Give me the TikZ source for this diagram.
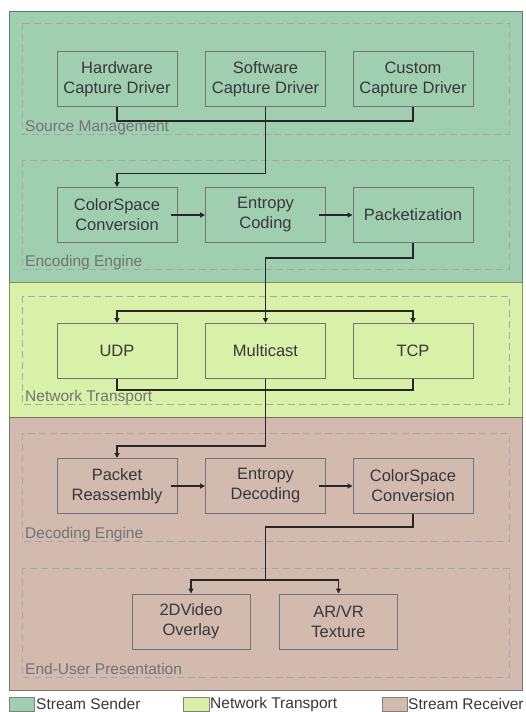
\documentclass[tikz,border=0pt]{standalone}
\usepackage{fontspec}
\setmainfont{Liberation Sans}
\usetikzlibrary{arrows.meta,calc}
\definecolor{sendc}{HTML}{9FCFB0}
\definecolor{netc}{HTML}{D8F0A8}
\definecolor{recvc}{HTML}{D3BAAF}
\begin{document}
\begin{tikzpicture}[x=1pt,y=-1pt,
 comp/.style={draw=black!55, line width=1pt, minimum width=120pt, minimum height=55pt, align=center, font=\fontsize{16.5}{20}\selectfont, text=black!78, inner sep=0pt},
 grp/.style={draw=black!35, dash pattern=on 7pt off 4pt, line width=0.9pt},
 grplabel/.style={anchor=base west, font=\fontsize{15.5}{18}\selectfont, text=black!55, inner sep=0pt},
 layerbox/.style={line width=1pt},
 conn/.style={draw=black!85, line width=1.3pt},
 arr/.style={conn, -{Triangle[length=5pt,width=5pt]}},
 legtext/.style={anchor=west, font=\fontsize{15.5}{18}\selectfont, text=black!78, inner sep=0pt},
]
\useasboundingbox (0,0) rectangle (526,712);
\fill[white] (0,0) rectangle (526,712);
% layers
\draw[layerbox, fill=sendc, draw=sendc!60!black] (9,11) rectangle (522,282);
\draw[layerbox, fill=netc, draw=netc!60!black] (9,282) rectangle (522,417);
\draw[layerbox, fill=recvc, draw=recvc!60!black] (9,417) rectangle (522,690);
% groups
\draw[grp] (22,23) rectangle (509,134);
\draw[grp] (22,160) rectangle (509,269);
\draw[grp] (22,296) rectangle (509,404);
\draw[grp] (22,433) rectangle (509,541);
\draw[grp] (22,568) rectangle (509,677);
\node[grplabel] (lsm) at (25,131) {Source Management};
\node[grplabel] (lee) at (25,266) {Encoding Engine};
\node[grplabel] (lnt) at (25,401) {Network Transport};
\node[grplabel] (lde) at (25,538) {Decoding Engine};
\node[grplabel] (leu) at (25,674) {End-User Presentation};
% components
\node[comp] (hw) at (117,79) {Hardware\\Capture Driver};
\node[comp] (sw) at (265.5,79) {Software\\Capture Driver};
\node[comp] (cu) at (413,79) {Custom\\Capture Driver};
\node[comp] (csc) at (117,215) {ColorSpace\\Conversion};
\node[comp] (ent) at (265.5,215) {Entropy\\Coding};
\node[comp] (pk) at (413,215) {Packetization};
\node[comp] (udp) at (117,351) {UDP};
\node[comp] (mc) at (265.5,351) {Multicast};
\node[comp] (tcp) at (413,351) {TCP};
\node[comp] (pr) at (117,486) {Packet\\Reassembly};
\node[comp] (ed) at (265.5,486) {Entropy\\Decoding};
\node[comp] (cs2) at (413,486) {ColorSpace\\Conversion};
\node[comp, minimum width=118pt] (vo) at (191,621.5) {2DVideo\\Overlay};
\node[comp, minimum width=118pt] (ar) at (338.5,621.5) {AR/VR\\Texture};
% connectors
\draw[conn] (hw.south) -- ++(0,14) -| (cu.south);
\draw[arr] (sw.south) -- ++(0,66.5) -| (csc.north);
\draw[arr] ([xshift=-7pt]csc.east) -- (ent.west);
\draw[arr] ([xshift=-7pt]ent.east) -- (pk.west);
\coordinate (split1) at ($(mc.north)+(0,-12)$);
\draw[conn] (pk.south) -- ++(0,15) -| (split1);
\draw[arr] (split1) -| (udp.north);
\draw[arr] (split1) -| (tcp.north);
\draw[arr] (split1) -- (mc.north);
\draw[conn] (udp.south) -- ++(0,11) -| (tcp.south);
\draw[arr] (mc.south) -- ++(0,67) -| (pr.north);
\draw[arr] ([xshift=-7pt]pr.east) -- (ed.west);
\draw[arr] ([xshift=-7pt]ed.east) -- (cs2.west);
\coordinate (split2) at ($(ed.south)+(0,66)$);
\draw[conn] (cs2.south) -- ++(0,13) -| (split2);
\draw[arr] (split2) -| (vo.north);
\draw[arr] (split2) -| (ar.north);
% legend
\draw[fill=sendc, draw=black!50, line width=0.8pt] (9,697) rectangle (34,711);
\node[legtext] (l1) at (36,704) {Stream Sender};
\draw[fill=netc, draw=black!50, line width=0.8pt] (183,697) rectangle (209,711);
\node[legtext] (l2) at (210,704) {Network Transport};
\draw[fill=recvc, draw=black!50, line width=0.8pt] (382,697) rectangle (407,711);
\node[legtext] (l3) at (408,704) {Stream Receiver};
\end{tikzpicture}
\end{document}
